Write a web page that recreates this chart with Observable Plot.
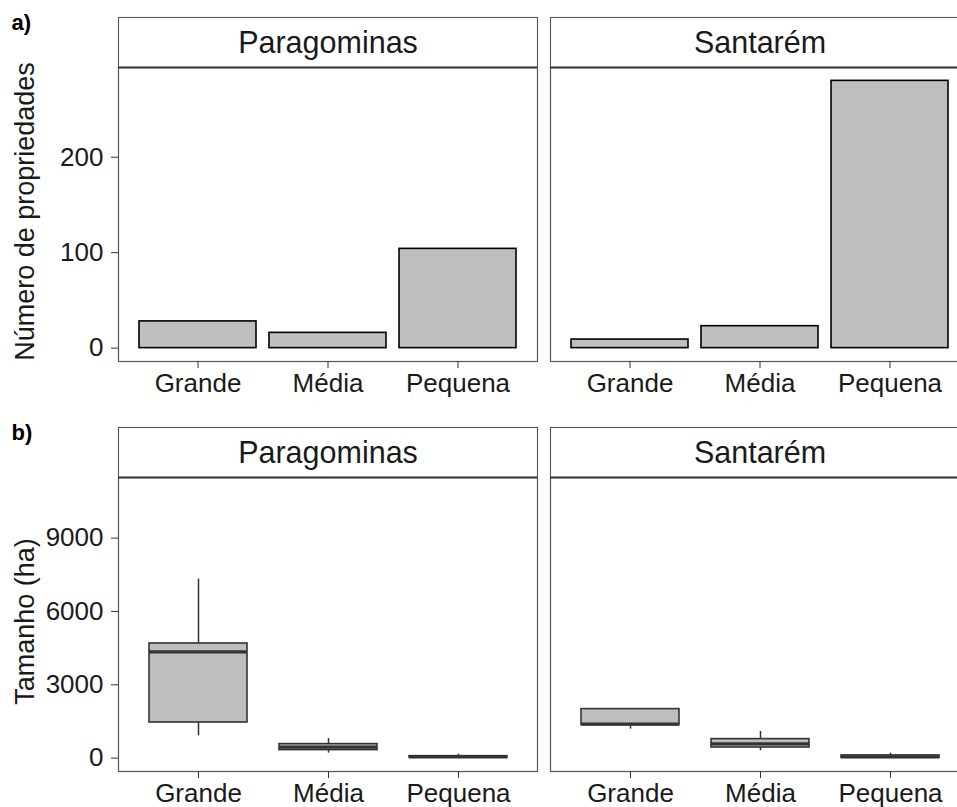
<!DOCTYPE html>
<html>
<head>
<meta charset="utf-8">
<script src="https://cdn.jsdelivr.net/npm/d3@7"></script>
<script src="https://cdn.jsdelivr.net/npm/@observablehq/plot@0.6"></script>
<style>
  html, body { margin: 0; padding: 0; background: #fff; overflow: hidden; }
  #chart { position: relative; width: 957px; height: 807px; overflow: hidden; }
  #chart svg { position: absolute; left: 0; max-width: none !important; width: 975px !important; height: 405px !important; }
</style>
</head>
<body>
<div id="chart"></div>
<script>
// Municipalities (facets) and property-size classes
const sites = ["Paragominas", "Santarém"];
const sizes = ["Grande", "Média", "Pequena"];

// a) Number of properties per size class
const countParagominas = [28, 16, 104];
const countSantarem = [9, 23, 280];

// b) Property size (ha): whisker ends, quartiles and median per size class
const lowParagominas = [912, 205, 5];
const q1Paragominas = [1457, 327, 20];
const medianParagominas = [4349, 450, 50];
const q3Paragominas = [4689, 573, 80];
const highParagominas = [7324, 802, 164];

const lowSantarem = [1186, 299, 3];
const q1Santarem = [1350, 434, 15];
const medianSantarem = [1390, 580, 50];
const q3Santarem = [2005, 777, 110];
const highSantarem = [2005, 1088, 205];

const countTicks = [0, 100, 200];
const areaTicks = [0, 3000, 6000, 9000];

// Tidy tables built from the arrays above
const counts = [
  ...sizes.map((s, i) => ({site: sites[0], size: s, n: countParagominas[i]})),
  ...sizes.map((s, i) => ({site: sites[1], size: s, n: countSantarem[i]}))
];
const boxes = [
  ...sizes.map((s, i) => ({site: sites[0], size: s, low: lowParagominas[i], q1: q1Paragominas[i],
    median: medianParagominas[i], q3: q3Paragominas[i], high: highParagominas[i]})),
  ...sizes.map((s, i) => ({site: sites[1], size: s, low: lowSantarem[i], q1: q1Santarem[i],
    median: medianSantarem[i], q3: q3Santarem[i], high: highSantarem[i]}))
];

const font = "'Liberation Sans', Arial, Helvetica, sans-serif";
const ink = "#1a1a1a";
const border = "#555";
const fillGrey = "#BEBEBE";

// Shared facet layout: strip on top of each panel, y axis on the left panel only
function facetPanel({yDomain, yTicks, xPaddingInner, xPaddingOuter, yLabel, tag, dataMarks}) {
  return Plot.plot({
    width: 975,
    height: 405,
    marginTop: 67,
    marginBottom: 44,
    marginLeft: 117,
    marginRight: 6,
    style: {fontFamily: font, color: ink, background: "transparent", overflow: "visible"},
    fx: {domain: sites, paddingInner: 0.031, paddingOuter: 0, axis: null, label: null},
    x: {domain: sizes, paddingInner: xPaddingInner, paddingOuter: xPaddingOuter, axis: null, label: null},
    y: {domain: yDomain, axis: null, label: null},
    marks: [
      // strip + panel outline
      Plot.frame({insetTop: -50, stroke: border, strokeWidth: 1.1, fill: "white"}),
      ...dataMarks,
      Plot.frame({stroke: border, strokeWidth: 1.1}),
      // line between strip and panel
      Plot.ruleY([yDomain[1]], {stroke: "#333", strokeWidth: 1.8}),
      Plot.axisY({ticks: yTicks, tickFormat: d => String(d), tickSize: 7, tickPadding: 8, fontSize: 26,
        label: null, facetAnchor: "left", stroke: "#333"}),
      Plot.axisX({tickSize: 7, tickPadding: 5, fontSize: 26, label: null, stroke: "#333"}),
      // strip labels
      Plot.text(sites, {fx: d => d, text: d => d, frameAnchor: "top", dy: -24, lineAnchor: "middle",
        fontSize: 30.5, fill: ink}),
      // y axis title
      Plot.text([yLabel], {fx: () => sites[0], text: d => d, frameAnchor: "left", dx: -93, dy: -3,
        rotate: -90, textAnchor: "middle", lineAnchor: "middle", fontSize: 27, fill: ink}),
      // panel tag
      Plot.text([tag], {fx: () => sites[0], text: d => d, frameAnchor: "top-left", dx: -107, dy: -45,
        textAnchor: "start", lineAnchor: "middle", fontWeight: "bold", fontSize: 22, fill: "#000"})
    ]
  });
}

const countPanel = facetPanel({
  yDomain: [-14, 294],
  yTicks: countTicks,
  xPaddingInner: 0.1,
  xPaddingOuter: 0.15,
  yLabel: "Número de propriedades",
  tag: "a)",
  dataMarks: [
    Plot.barY(counts, {fx: "site", x: "size", y: "n", fill: fillGrey, stroke: "#000", strokeWidth: 1.6})
  ]
});

const areaPanel = facetPanel({
  yDomain: [-548, 11481],
  yTicks: areaTicks,
  xPaddingInner: 0.25,
  xPaddingOuter: 0.225,
  yLabel: "Tamanho (ha)",
  tag: "b)",
  dataMarks: [
    Plot.ruleX(boxes, {fx: "site", x: "size", y1: "low", y2: "high", stroke: "#333", strokeWidth: 1.5}),
    Plot.barY(boxes, {fx: "site", x: "size", y1: "q1", y2: "q3", fill: fillGrey, stroke: "#333", strokeWidth: 1.6}),
    Plot.tickY(boxes, {fx: "site", x: "size", y: "median", stroke: "#333", strokeWidth: 3.2})
  ]
});

countPanel.style.top = "0px";
areaPanel.style.top = "410px";
const chart = document.getElementById("chart");
chart.appendChild(countPanel);
chart.appendChild(areaPanel);
</script>
</body>
</html>
